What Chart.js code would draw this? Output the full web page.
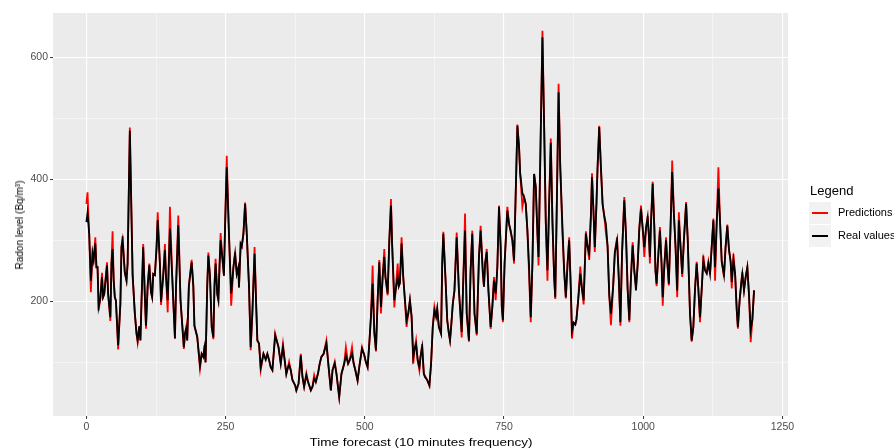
<!DOCTYPE html>
<html>
<head>
<meta charset="utf-8">
<script src="https://cdn.jsdelivr.net/npm/chart.js@4"></script>
<style>
  body { margin: 0; background: #ffffff; }
  #wrap { position: relative; width: 894px; height: 448px; overflow: hidden; font-family: "Liberation Sans", Arial, sans-serif; }
  #chart { position: absolute; left: 0; top: 0; }
  .lbl { position: absolute; white-space: nowrap; color: #000; }
  #ytitle { left: 19px; top: 225px; font-size: 11.5px; transform: translate(-50%, -50%) rotate(-90deg) scaleX(0.87); }
  #xtitle { left: 421px; top: 442px; font-size: 13.5px; transform: translate(-50%, -50%) scaleY(0.85); }
  #legend-title { left: 810px; top: 183px; font-size: 13px; }
  .key { position: absolute; left: 809px; width: 22px; height: 22px; background: #f2f2f2; }
  .key span { position: absolute; left: 3px; right: 3px; top: 10px; height: 2px; }
  .item { left: 838px; font-size: 11px; }
</style>
</head>
<body>
<div id="wrap">
  <canvas id="chart" width="894" height="448"></canvas>
  <div class="lbl" id="ytitle">Radon level (Bq/m³)</div>
  <div class="lbl" id="xtitle">Time forecast (10 minutes frequency)</div>
  <div class="lbl" id="legend-title">Legend</div>
  <div class="key" style="top:202px"><span style="background:#ff0000"></span></div>
  <div class="key" style="top:225px"><span style="background:#000000"></span></div>
  <div class="lbl item" style="top:206px">Predictions</div>
  <div class="lbl item" style="top:229px">Real values</div>
</div>
<script>
// time step of each turning point
const timeSteps = [
  0, 2, 5, 8, 11, 13, 16, 18, 20, 22, 25, 28, 30, 32, 37, 39, 43, 45, 47, 49,
  51, 53, 57, 61, 63, 65, 69, 72, 74, 78, 83, 87, 90, 92, 95, 97, 99, 102, 105, 107,
  110, 113, 116, 118, 120, 123, 126, 128, 132, 134, 138, 141, 143, 146, 150, 154, 159, 161, 165, 169,
  175, 177, 180, 181, 184, 189, 192, 194, 199, 204, 207, 210, 212, 214, 217, 219, 222, 225, 228, 230,
  232, 235, 237, 239, 241, 244, 247, 249, 252, 256, 260, 264, 267, 270, 273, 274, 277, 279, 282, 285,
  288, 292, 295, 298, 302, 305, 307, 310, 313, 318, 322, 325, 328, 331, 334, 339, 345, 349, 353, 356,
  359, 362, 364, 367, 370, 375, 377, 381, 385, 388, 391, 395, 398, 403, 406, 409, 412, 416, 419, 422,
  426, 431, 435, 439, 442, 446, 449, 454, 458, 463, 466, 470, 473, 477, 480, 483, 487, 490, 495, 499,
  502, 505, 508, 511, 514, 517, 520, 523, 526, 529, 532, 535, 537, 541, 544, 547, 549, 553, 555, 559,
  561, 563, 566, 569, 571, 575, 578, 581, 584, 587, 590, 592, 595, 598, 600, 603, 606, 608, 612, 616,
  619, 622, 625, 628, 630, 633, 637, 639, 641, 645, 648, 651, 653, 655, 658, 661, 665, 669, 674, 677,
  680, 683, 687, 690, 693, 697, 701, 705, 708, 712, 714, 716, 719, 722, 726, 729, 732, 735, 738, 741,
  744, 746, 748, 751, 756, 759, 762, 765, 768, 771, 774, 777, 779, 783, 786, 789, 792, 795, 798, 801,
  804, 807, 810, 812, 816, 819, 822, 825, 828, 831, 834, 837, 840, 842, 845, 848, 851, 855, 858, 861,
  864, 867, 870, 872, 875, 878, 880, 883, 887, 890, 893, 897, 900, 903, 906, 908, 911, 913, 916, 918,
  921, 924, 927, 930, 933, 936, 939, 942, 946, 949, 953, 956, 959, 962, 966, 969, 972, 975, 978, 981,
  984, 987, 990, 993, 996, 999, 1002, 1005, 1008, 1010, 1012, 1014, 1017, 1020, 1022, 1024, 1027, 1030, 1033, 1035,
  1038, 1041, 1043, 1046, 1049, 1052, 1055, 1058, 1061, 1064, 1067, 1070, 1073, 1077, 1080, 1082, 1084, 1087, 1090, 1093,
  1096, 1099, 1102, 1105, 1108, 1111, 1114, 1117, 1120, 1123, 1126, 1129, 1132, 1135, 1138, 1141, 1145, 1148, 1151, 1154,
  1157, 1159, 1162, 1165, 1168, 1170, 1173, 1176, 1178, 1181, 1184, 1187, 1190, 1193, 1196, 1199
];

const realValues = [
  330, 345, 311, 234, 279, 268, 295, 256, 256, 191, 205, 240, 207, 212, 259, 212, 174, 262, 286, 234,
  207, 201, 128, 196, 289, 300, 247, 234, 262, 480, 243, 180, 147, 136, 159, 136, 201, 289, 207, 160,
  225, 259, 215, 207, 245, 243, 289, 333, 262, 199, 243, 284, 240, 202, 319, 243, 139, 225, 325, 202,
  125, 147, 157, 136, 225, 264, 225, 160, 142, 95, 114, 109, 123, 100, 225, 275, 240, 158, 141, 225,
  262, 212, 202, 256, 300, 273, 242, 322, 420, 311, 213, 256, 278, 245, 256, 223, 294, 290, 311, 360,
  311, 225, 125, 180, 278, 191, 136, 131, 92, 114, 104, 114, 104, 92, 87, 144, 125, 98, 125, 104,
  81, 92, 96, 87, 71, 62, 54, 65, 111, 76, 60, 79, 68, 54, 60, 73, 68, 82, 98, 109,
  114, 131, 92, 54, 87, 98, 82, 43, 81, 98, 111, 98, 104, 114, 98, 87, 70, 92, 122, 112,
  100, 92, 130, 175, 229, 150, 120, 202, 264, 191, 240, 273, 240, 213, 300, 357, 295, 202, 215, 240,
  225, 230, 295, 240, 215, 169, 180, 202, 175, 109, 125, 130, 103, 92, 109, 125, 81, 76, 71, 62,
  98, 158, 185, 175, 188, 158, 147, 262, 311, 235, 169, 147, 136, 158, 196, 218, 305, 218, 150, 240,
  316, 180, 136, 251, 311, 180, 147, 273, 316, 246, 224, 262, 281, 218, 158, 191, 234, 213, 256, 355,
  289, 191, 169, 262, 349, 327, 316, 300, 267, 378, 488, 453, 410, 377, 371, 360, 316, 256, 174, 262,
  409, 388, 311, 273, 480, 633, 490, 330, 251, 360, 460, 330, 240, 207, 370, 543, 420, 320, 250, 207,
  260, 300, 220, 152, 165, 162, 170, 200, 245, 220, 202, 311, 290, 278, 340, 404, 340, 289, 360, 420,
  486, 420, 360, 340, 327, 290, 210, 180, 225, 280, 300, 240, 166, 280, 366, 310, 220, 169, 240, 292,
  250, 218, 260, 320, 352, 320, 289, 320, 338, 310, 273, 330, 393, 320, 250, 229, 275, 316, 260, 207,
  260, 300, 268, 229, 320, 412, 345, 290, 218, 333, 290, 245, 300, 360, 300, 240, 180, 136, 158, 220,
  262, 220, 174, 220, 267, 251, 246, 262, 245, 290, 333, 256, 330, 385, 330, 265, 243, 290, 324, 285,
  265, 232, 267, 245, 185, 158, 200, 230, 245, 218, 240, 256, 210, 153, 170, 218
];

const predictedValues = [
  360, 379, 311, 215, 279, 268, 305, 256, 256, 185, 205, 247, 207, 212, 264, 212, 168, 262, 315, 234,
  207, 201, 121, 196, 289, 307, 247, 234, 262, 485, 243, 180, 147, 133, 159, 136, 201, 294, 207, 155,
  225, 262, 215, 207, 245, 243, 289, 346, 262, 194, 243, 294, 240, 182, 355, 243, 139, 225, 341, 202,
  122, 147, 162, 136, 225, 268, 225, 160, 142, 90, 114, 109, 128, 100, 225, 280, 240, 158, 138, 225,
  270, 212, 202, 256, 312, 273, 242, 322, 439, 311, 193, 256, 281, 245, 256, 223, 294, 290, 311, 362,
  311, 225, 120, 180, 289, 191, 136, 131, 87, 114, 106, 114, 104, 92, 87, 147, 125, 98, 130, 104,
  81, 92, 101, 87, 71, 62, 54, 65, 114, 76, 60, 82, 68, 54, 60, 79, 68, 82, 98, 109,
  114, 136, 92, 54, 87, 101, 82, 43, 81, 98, 125, 98, 104, 125, 98, 87, 70, 92, 125, 112,
  100, 92, 130, 175, 259, 150, 118, 202, 268, 180, 240, 286, 240, 210, 300, 368, 295, 190, 215, 262,
  225, 230, 305, 240, 215, 158, 180, 202, 175, 98, 125, 136, 103, 87, 109, 130, 81, 78, 71, 62,
  98, 158, 191, 175, 188, 158, 147, 262, 314, 235, 169, 147, 136, 158, 196, 218, 313, 218, 141, 240,
  344, 180, 134, 251, 316, 180, 144, 273, 324, 246, 224, 262, 286, 218, 155, 191, 240, 202, 256, 357,
  289, 191, 166, 262, 355, 327, 313, 300, 262, 378, 490, 453, 410, 355, 371, 360, 316, 245, 166, 262,
  409, 388, 311, 259, 480, 644, 490, 330, 234, 360, 467, 330, 240, 204, 370, 557, 420, 310, 250, 205,
  260, 305, 220, 139, 165, 162, 170, 200, 257, 220, 195, 315, 290, 268, 340, 410, 340, 281, 360, 420,
  488, 420, 360, 340, 312, 290, 210, 161, 225, 280, 305, 240, 160, 280, 371, 310, 220, 166, 240, 297,
  250, 225, 260, 320, 357, 320, 273, 320, 340, 310, 262, 330, 396, 320, 250, 225, 275, 322, 260, 193,
  260, 305, 268, 226, 320, 431, 345, 290, 207, 346, 290, 240, 300, 363, 300, 240, 180, 134, 158, 220,
  265, 220, 166, 220, 275, 251, 246, 265, 245, 290, 336, 234, 330, 420, 330, 265, 240, 290, 326, 285,
  265, 221, 278, 245, 185, 155, 200, 230, 248, 218, 240, 256, 210, 133, 170, 218
];

const xTicks = [0, 125, 250, 375, 500, 625, 750, 875, 1000, 1125, 1250];
const yTicks = [100, 200, 300, 400, 500, 600];
const xLabelled = [0, 250, 500, 750, 1000, 1250];
const yLabelled = [200, 400, 600];

function isMajor(scale, value) {
    const list = scale.axis === 'x' ? xLabelled : yLabelled;
    return list.includes(value);
}

// ggplot style panel background
const panelBg = {
    id: 'panelBg',
    beforeDraw(chart) {
        const a = chart.chartArea;
        const ctx = chart.ctx;
        ctx.save();
        ctx.fillStyle = '#ebebeb';
        ctx.fillRect(a.left, a.top, a.right - a.left, a.bottom - a.top);
        ctx.restore();
    }
};

const gridOpts = {
    color: ctx => ctx.tick && isMajor(ctx.scale, ctx.tick.value) ? '#ffffff' : 'rgba(255,255,255,0.85)',
    lineWidth: ctx => ctx.tick && isMajor(ctx.scale, ctx.tick.value) ? 1.1 : 0.55,
    tickColor: ctx => ctx.tick && isMajor(ctx.scale, ctx.tick.value) ? '#333333' : 'rgba(0,0,0,0)',
    tickLength: 3,
    tickWidth: 1,
    drawTicks: true
};

const tickFont = { family: '"Liberation Sans", Arial, sans-serif', size: 10.5 };

new Chart(document.getElementById('chart'), {
    type: 'line',
    data: {
        datasets: [
            {
                label: 'Real values',
                data: timeSteps.map((t, i) => ({ x: t, y: realValues[i] })),
                borderColor: '#000000',
                borderWidth: 1.8,
                pointRadius: 0,
                tension: 0
            },
            {
                label: 'Predictions',
                data: timeSteps.map((t, i) => ({ x: t, y: predictedValues[i] })),
                borderColor: '#ff0000',
                borderWidth: 1.8,
                pointRadius: 0,
                tension: 0
            }
        ]
    },
    options: {
        responsive: false,
        animation: false,
        events: [],
        layout: { padding: { left: 0, right: 106, top: 13, bottom: 0 } },
        plugins: {
            legend: { display: false },
            tooltip: { enabled: false }
        },
        scales: {
            x: {
                type: 'linear',
                min: -60,
                max: 1260,
                border: { display: false },
                grid: gridOpts,
                afterBuildTicks: scale => { scale.ticks = xTicks.map(v => ({ value: v })); },
                afterFit: scale => { scale.height = 32; },
                ticks: {
                    autoSkip: false,
                    maxRotation: 0,
                    padding: 2,
                    color: '#4d4d4d',
                    font: tickFont,
                    callback: v => xLabelled.includes(v) ? String(v) : ''
                }
            },
            y: {
                type: 'linear',
                min: 12,
                max: 673,
                border: { display: false },
                grid: gridOpts,
                afterBuildTicks: scale => { scale.ticks = yTicks.map(v => ({ value: v })); },
                afterFit: scale => { scale.width = 53; },
                ticks: {
                    autoSkip: false,
                    padding: 2,
                    color: '#4d4d4d',
                    font: tickFont,
                    callback: v => yLabelled.includes(v) ? String(v) : ''
                }
            }
        }
    },
    plugins: [panelBg]
});
</script>
</body>
</html>
